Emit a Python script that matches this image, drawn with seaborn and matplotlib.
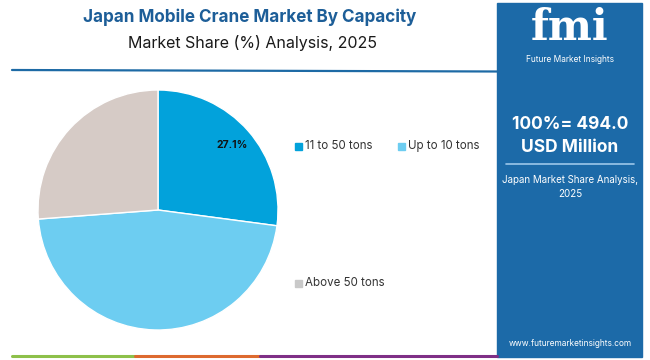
#!/usr/bin/env python3

import matplotlib.pyplot as plt
import matplotlib.patches as mpatches
import seaborn as sns

categories = ["11 to 50 tons", "Up to 10 tons", "Above 50 tons"]
shares = [27.1, 46.7, 26.2]
shown_labels = ["27.1%", "", ""]
pie_colors = ["#02a2db", "#6dcdf1", "#d6cbc6"]
legend_colors = ["#02a2db", "#6dcdf1", "#c9c9c9"]

title = "Japan Mobile Crane Market By Capacity"
subtitle = "Market Share (%) Analysis, 2025"
total_text = "100%= 494.0\nUSD Million"
panel_note = "Japan Market Share Analysis,\n2025"
site = "www.futuremarketinsights.com"


def main():
    sns.set_theme(style="white")
    plt.rcParams["font.family"] = ["Inter", "DejaVu Sans"]

    fig = plt.figure(figsize=(6.5, 3.6), dpi=100)
    W, H = 650, 360

    def fx(px):
        return px / W

    def fy(py):
        return 1 - py / H

    # pie
    ax = fig.add_axes([fx(38), fy(330), 240 / W, 240 / H])
    wedges, texts = ax.pie(
        shares,
        colors=pie_colors,
        startangle=90,
        counterclock=False,
        labels=shown_labels,
        labeldistance=0.82,
        textprops=dict(fontsize=7.5, fontweight="bold", color="#111111"),
    )
    for t in texts:
        t.set_ha("center")
        t.set_va("center")
    ax.set_xlim(-1, 1)
    ax.set_ylim(-1, 1)
    ax.set_aspect("equal")

    # title block
    fig.text(fx(250), fy(17), title, ha="center", va="center",
             fontsize=12.3, fontweight="bold", color="#1d5e98")
    fig.text(fx(253), fy(43), subtitle, ha="center", va="center",
             fontsize=11.5, color="#1a1a1a")
    fig.add_artist(plt.Line2D([fx(12), fx(497)], [fy(70), fy(71.5)],
                              color="#1d6aa5", lw=1.6))

    # legend
    legend_pos = [(298, 146), (401, 146), (298, 283)]
    for name, col, (x, y) in zip(categories, legend_colors, legend_pos):
        fig.add_artist(mpatches.Rectangle((fx(x - 3.5), fy(y + 3.5)), 7 / W, 7 / H,
                                          color=col, transform=fig.transFigure))
        fig.text(fx(x + 7), fy(y), name, ha="left", va="center",
                 fontsize=8.3, color="#333333")

    # right panel
    fig.add_artist(mpatches.Rectangle((fx(497), fy(357)), 145 / W, 354 / H,
                                      color="#1c6aa8", transform=fig.transFigure))
    fig.text(fx(570), fy(28), "fmi", ha="center", va="center", fontsize=30,
             fontweight="bold", color="white", family="DejaVu Serif")
    fig.text(fx(570), fy(60), "Future Market Insights", ha="center", va="center",
             fontsize=6, color="white")
    fig.text(fx(570), fy(136), total_text, ha="center", va="center",
             fontsize=12.5, fontweight="bold", color="white", linespacing=1.5)
    fig.add_artist(plt.Line2D([fx(506), fx(634)], [fy(164), fy(164)],
                              color="#9cc7ea", lw=1.2))
    fig.text(fx(570), fy(187), panel_note, ha="center", va="center",
             fontsize=7, color="white", linespacing=1.4)
    fig.text(fx(570), fy(344), site, ha="center", va="center",
             fontsize=6, color="white")

    # bottom colour strip
    for x0, x1, col in [(12, 135, "#8dc04a"), (135, 260, "#dd6a2f"),
                        (260, 497, "#7f2f86")]:
        fig.add_artist(plt.Line2D([fx(x0), fx(x1)], [fy(356), fy(356)],
                                  color=col, lw=2.2))

    fig.savefig("out.png", dpi=100)


if __name__ == '__main__':
    main()
